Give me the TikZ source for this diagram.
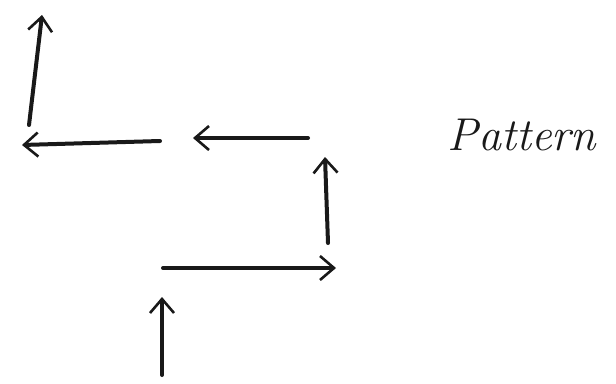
\documentclass[tikz,border=0pt]{standalone}
\usetikzlibrary{arrows.meta}
\begin{document}
\begin{tikzpicture}[x=1pt,y=-1pt,
  stroke/.style={line width=4pt,line cap=round,color=black!90,-{Straight Barb[length=14pt,width=24pt,line width=2.6pt]}},
  label/.style={font=\fontsize{46}{52}\selectfont\itshape,color=black!90}]
\useasboundingbox (0,0) rectangle (616,383);
\coordinate (a1s) at (162,375); \coordinate (a1e) at (162,297);
\coordinate (a2s) at (163,268); \coordinate (a2e) at (336,268);
\coordinate (a3s) at (328,243); \coordinate (a3e) at (325,157);
\coordinate (a4s) at (308,138); \coordinate (a4e) at (193,138);
\coordinate (a5s) at (160,141); \coordinate (a5e) at (22,145);
\coordinate (a6s) at (29,125);  \coordinate (a6e) at (42,15);
\draw[stroke] (a1s) -- (a1e);
\draw[stroke] (a2s) -- (a2e);
\draw[stroke] (a3s) -- (a3e);
\draw[stroke] (a4s) -- (a4e);
\draw[stroke] (a5s) -- (a5e);
\draw[stroke] (a6s) -- (a6e);
\node[label] (pat) at (522,135) {Pattern};
\end{tikzpicture}
\end{document}
